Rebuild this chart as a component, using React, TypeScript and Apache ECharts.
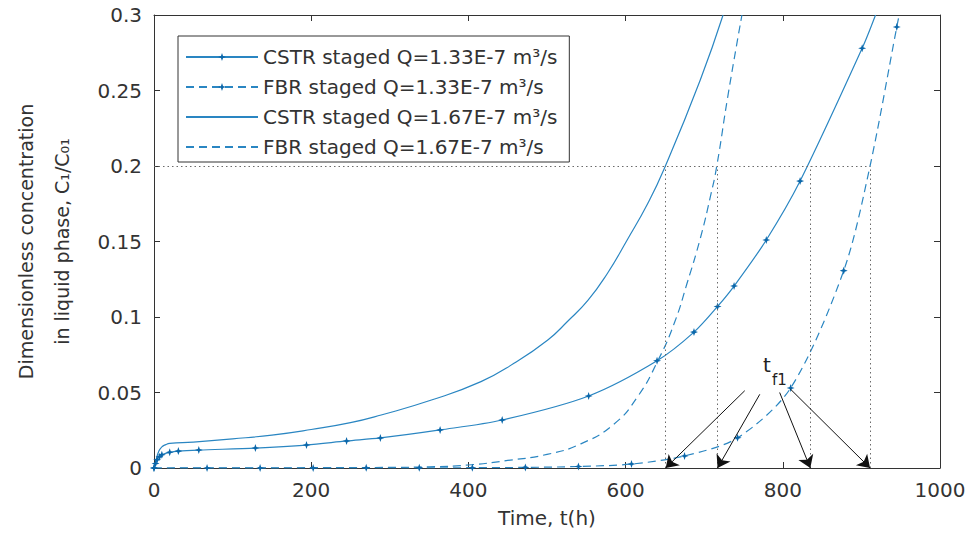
import React, { useEffect, useRef } from "react";
import * as echarts from "echarts";

// ---- data ----
const legendNames = [
  "CSTR staged Q=1.33E-7 m³/s",
  "FBR staged Q=1.33E-7 m³/s",
  "CSTR staged Q=1.67E-7 m³/s",
  "FBR staged Q=1.67E-7 m³/s",
];

// CSTR staged, Q=1.33E-7 (solid, markers)
const cstr133T = [0, 2, 4, 7, 10, 20, 31, 57, 129, 194, 245, 288, 364, 443, 553, 640, 687, 717, 738, 779, 822, 901, 918];
const cstr133C = [0, 0.003, 0.0055, 0.0075, 0.0088, 0.0104, 0.0112, 0.0119, 0.0132, 0.0152, 0.0179, 0.0199, 0.0252, 0.0318, 0.0477, 0.071, 0.09, 0.107, 0.1205, 0.151, 0.19, 0.278, 0.3];
const cstr133Mark = [1, 1, 1, 1, 1, 1, 1, 1, 1, 1, 1, 1, 1, 1, 1, 1, 1, 1, 1, 1, 1, 1, 0];

// FBR staged, Q=1.33E-7 (dashed, markers)
const fbr133T = [0, 67.5, 135, 202.5, 270, 337.5, 405, 472.5, 540, 607.5, 675, 742.5, 810, 877.5, 911, 945, 948];
const fbr133C = [0, 0, 0, 0, 0.0001, 0.0001, 0.0002, 0.0004, 0.001, 0.0026, 0.008, 0.02, 0.053, 0.1307, 0.2, 0.292, 0.3];
const fbr133Mark = [1, 1, 1, 1, 1, 1, 1, 1, 1, 1, 1, 1, 1, 1, 0, 1, 0];

// CSTR staged, Q=1.67E-7 (solid)
const cstr167T = [0, 3, 6, 10, 15, 20, 50, 100, 150, 200, 250, 289, 353, 416, 458, 501, 526, 552, 577, 602, 628, 649, 695, 724];
const cstr167C = [0, 0.006, 0.011, 0.014, 0.0155, 0.0163, 0.0172, 0.0193, 0.0218, 0.0255, 0.03, 0.0351, 0.045, 0.0572, 0.0693, 0.0848, 0.097, 0.111, 0.129, 0.151, 0.175, 0.198, 0.257, 0.3];

// FBR staged, Q=1.67E-7 (dashed)
const fbr167T = [0, 100, 200, 300, 350, 400, 450, 500, 543, 585, 615, 641, 662, 678, 695, 708, 716, 730, 748];
const fbr167C = [0, 0.0001, 0.0002, 0.0004, 0.0008, 0.002, 0.005, 0.009, 0.016, 0.029, 0.047, 0.071, 0.096, 0.122, 0.152, 0.18, 0.2, 0.246, 0.3];

// breakthrough times t_f1 at C = 0.2
const tf1Times = [651, 717, 835, 911];
const tf1Level = 0.2;
// arrow tails (t, C) near the t_f1 label
const arrowTailT = [751.6, 770.7, 796, 809.6];
const arrowTailC = [0.0512, 0.0488, 0.05, 0.0523];

const xTicks = { min: 0, max: 1000, interval: 200 };
const yTicks = { min: 0, max: 0.3, interval: 0.05 };

const LINE = "#2a86c2";
const MARK = "#0b67aa";
const AX = "#333333";
const FONT = "DejaVu Sans";
const STAR = "path://M0,-5L1.3,-1.3L5,0L1.3,1.3L0,5L-1.3,1.3L-5,0L-1.3,-1.3Z";

function build(T: number[], C: number[], mark?: number[]) {
  return T.map((t, i) =>
    mark ? (mark[i] ? { value: [t, C[i]] } : { value: [t, C[i]], symbol: "none" }) : [t, C[i]]
  );
}

export default function App() {
  const ref = useRef<HTMLDivElement>(null);
  useEffect(() => {
    if (!ref.current) return;
    const chart = echarts.init(ref.current, null, { renderer: "svg" });

    const dotted = { color: "#6a6a6a", width: 1, type: [1.5, 3] as any };
    const markData: any[] = [
      [{ coord: [0, tf1Level], lineStyle: dotted }, { coord: [tf1Times[3], tf1Level] }],
      ...tf1Times.map((t) => [{ coord: [t, 0], lineStyle: dotted }, { coord: [t, tf1Level] }]),
      ...tf1Times.map((t, i) => [
        { coord: [arrowTailT[i], arrowTailC[i]], symbol: "none", lineStyle: { color: "#111", width: 1, type: "solid" } },
        { coord: [t, 0], symbol: "arrow", symbolSize: 12 },
      ]),
    ];

    const axisCommon = {
      type: "value" as const,
      axisLine: { show: true, onZero: false, lineStyle: { color: AX, width: 1 } },
      axisTick: { show: true, inside: true, length: 6, lineStyle: { color: AX } },
      splitLine: { show: false },
    };

    const hidden = { color: "rgba(0,0,0,0)", borderColor: "rgba(0,0,0,0)", borderWidth: 0 };

    const option: any = {
      animation: false,
      backgroundColor: "#ffffff",
      textStyle: { fontFamily: FONT },
      grid: { left: 152, right: 31, top: 15, bottom: 67 },
      legend: {
        data: [
          { name: legendNames[0] },
          { name: legendNames[1] },
          { name: legendNames[2], itemStyle: hidden },
          { name: legendNames[3], itemStyle: hidden },
        ],
        orient: "vertical",
        left: 178,
        top: 36,
        itemWidth: 72,
        itemHeight: 10,
        itemGap: 10,
        padding: [11, 12, 5, 7],
        borderColor: AX,
        borderWidth: 1,
        borderRadius: 0,
        backgroundColor: "#ffffff",
        textStyle: { fontSize: 20, color: AX, fontFamily: FONT, lineHeight: 20 },
      },
      xAxis: [
        {
          ...axisCommon,
          ...xTicks,
          position: "bottom",
          axisLabel: { fontSize: 20, color: AX, margin: 12, fontFamily: FONT, formatter: (v: number) => String(v) },
          name: "Time, t(h)",
          nameLocation: "middle",
          nameGap: 40,
          nameTextStyle: { fontSize: 20, color: AX, fontFamily: FONT },
        },
        { ...axisCommon, ...xTicks, position: "top", axisLabel: { show: false } },
      ],
      yAxis: [
        {
          ...axisCommon,
          ...yTicks,
          position: "left",
          axisLabel: {
            fontSize: 20,
            color: AX,
            margin: 12,
            fontFamily: FONT,
            formatter: (v: number) => String(+v.toFixed(2)),
          },
          name: "Dimensionless concentration\nin liquid phase, C₁/C₀₁",
          nameLocation: "middle",
          nameGap: 74,
          nameTextStyle: { fontSize: 19, color: AX, fontFamily: FONT, lineHeight: 36 },
        },
        { ...axisCommon, ...yTicks, position: "right", axisLabel: { show: false } },
      ],
      series: [
        {
          name: legendNames[0],
          type: "line",
          data: build(cstr133T, cstr133C, cstr133Mark),
          symbol: STAR,
          symbolSize: 8,
          smooth: 0.3,
          lineStyle: { color: LINE, width: 1.2, type: "solid" },
          itemStyle: { color: MARK },
          z: 4,
        },
        {
          name: legendNames[1],
          type: "line",
          data: build(fbr133T, fbr133C, fbr133Mark),
          symbol: STAR,
          symbolSize: 8,
          smooth: 0.3,
          lineStyle: { color: LINE, width: 1.2, type: [8, 5] },
          itemStyle: { color: MARK },
          z: 4,
        },
        {
          name: legendNames[2],
          type: "line",
          data: build(cstr167T, cstr167C),
          symbol: "none",
          smooth: 0.5,
          lineStyle: { color: LINE, width: 1.2, type: "solid" },
          itemStyle: { color: LINE },
          z: 3,
        },
        {
          name: legendNames[3],
          type: "line",
          data: build(fbr167T, fbr167C),
          symbol: "none",
          smooth: 0.5,
          lineStyle: { color: LINE, width: 1.2, type: [8, 5] },
          itemStyle: { color: LINE },
          z: 3,
        },
        {
          type: "line",
          data: [],
          silent: true,
          markLine: {
            silent: true,
            symbol: ["none", "none"],
            label: { show: false },
            emphasis: { disabled: true },
            animation: false,
            data: markData,
          },
          z: 2,
        },
      ],
      graphic: [
        { type: "text", left: 763, top: 355, style: { text: "t", fontSize: 20, fill: "#222", fontFamily: FONT } },
        { type: "text", left: 772, top: 372, style: { text: "f1", fontSize: 15, fill: "#222", fontFamily: FONT } },
      ],
    };

    chart.setOption(option);
    return () => chart.dispose();
  }, []);

  return (
    <div
      ref={ref}
      style={{ position: "fixed", left: 0, top: 0, width: 971, height: 535, background: "#fff" }}
    />
  );
}
